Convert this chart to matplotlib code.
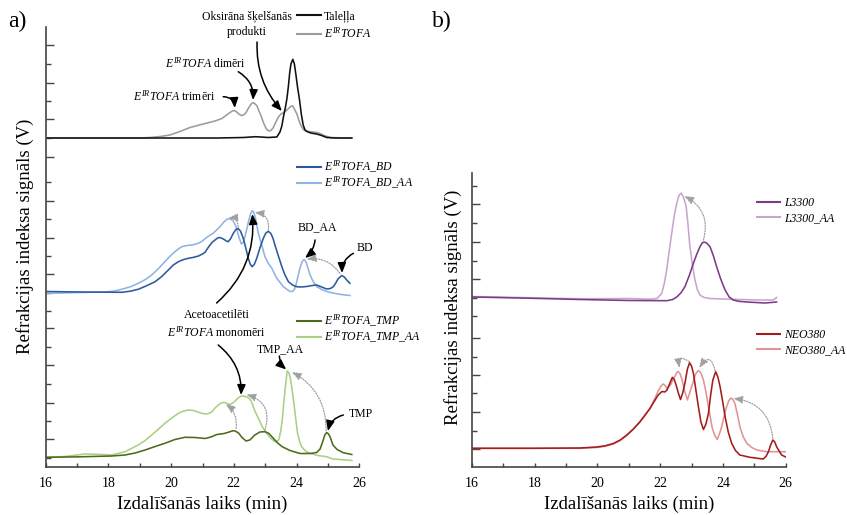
import matplotlib
matplotlib.use('Agg')
import matplotlib.pyplot as plt
from matplotlib.legend import Legend
from matplotlib.ticker import FixedLocator, MultipleLocator, NullFormatter

plt.rcParams['font.family'] = ['Liberation Serif', 'DejaVu Serif']
plt.rcParams['mathtext.fontset'] = 'custom'
plt.rcParams['mathtext.rm'] = 'Liberation Serif'
plt.rcParams['mathtext.it'] = 'Liberation Serif:italic'
plt.rcParams['mathtext.bf'] = 'Liberation Serif:bold'

W, H = 847, 515

# ---------------- data (retention time in min, RI signal in arbitrary units) -------------
# Panel a) - top group
tall_t = [16.0, 21.5, 22.3, 22.7, 23.1, 23.37, 23.47, 23.53, 23.58, 23.64, 23.69, 23.74, 23.78,
          23.82, 23.88, 23.93, 23.98, 24.03, 24.09, 24.15, 24.21, 24.27, 24.33, 24.45, 24.64,
          24.80, 24.96, 25.2, 25.76]
tall_s = [329, 329, 329.5, 330.3, 329.5, 330, 335, 341, 350, 359, 368, 381, 394,
          403, 407.7, 403, 392, 380, 368, 353, 342, 337, 335.5, 334, 333,
          331.5, 329.5, 329, 329]
tofa_t = [16.0, 19.0, 19.33, 19.65, 19.96, 20.28, 20.6, 21.02, 21.4, 21.62, 21.81, 21.95, 22.02,
          22.09, 22.16, 22.24, 22.31, 22.38, 22.45, 22.52, 22.57, 22.62, 22.68, 22.74, 22.8,
          22.87, 22.93, 22.99, 23.05, 23.12, 23.18, 23.25, 23.34, 23.42, 23.5, 23.57, 23.63,
          23.69, 23.76, 23.83, 23.88, 23.93, 24.01, 24.08, 24.16, 24.23, 24.3, 24.4, 24.52,
          24.65, 24.75, 24.87, 24.97, 25.1, 25.38, 25.76]
tofa_s = [329, 329, 329.5, 330.5, 332, 335.5, 339.5, 343, 346, 348.5, 353, 356, 356.5,
          355, 353, 351.5, 352, 354, 358, 361.5, 363.7, 364.3, 363, 361, 356,
          351, 345.5, 341, 337.5, 336, 336.5, 339, 345, 350, 353, 354, 355.5,
          357, 359, 361, 361, 358, 353, 346, 340, 337, 336, 335.5, 335,
          334.5, 333.5, 331.5, 330.5, 329.5, 329.2, 329]

# Panel a) - middle group
bd_t = [16.0, 17.09, 18.42, 18.7, 18.95, 19.2, 19.49, 19.7, 19.91, 20.07, 20.23, 20.4, 20.55,
        20.72, 20.87, 21.0, 21.08, 21.16, 21.24, 21.32, 21.4, 21.48, 21.56, 21.63, 21.69,
        21.76, 21.82, 21.9, 21.97, 22.05, 22.13, 22.21, 22.3, 22.38, 22.46, 22.52, 22.58,
        22.65, 22.73, 22.83, 22.94, 23.02, 23.1, 23.18, 23.25, 23.31, 23.42, 23.53, 23.63,
        23.74, 23.87, 24.0, 24.15, 24.32, 24.5, 24.64, 24.8, 24.96, 25.08, 25.17, 25.25,
        25.32, 25.44, 25.52, 25.6, 25.7]
bd_s = [175.5, 175, 174.7, 175.8, 177.7, 181, 185.3, 190.5, 197, 202, 205.3, 207.5, 208.7,
        209.7, 211, 213, 214.7, 218.5, 222, 225, 227, 229, 229.5, 228.5, 227.5,
        226, 225.3, 228.5, 233, 237, 238.7, 236, 228.7, 219, 208.7, 203, 200.3,
        202.5, 208.7, 219, 228.7, 234, 235.7, 233.5, 228.5, 222, 211, 200.3, 192,
        185.3, 182, 180.3, 180, 180.5, 181.5, 182, 180, 178, 178.5, 180.3, 184,
        188, 191.5, 190, 187, 183.7]
bdaa_t = [16.0, 16.5, 17.09, 17.89, 18.2, 18.42, 18.7, 18.95, 19.18, 19.38, 19.6, 19.8, 19.97,
          20.12, 20.25, 20.34, 20.5, 20.66, 20.82, 20.97, 21.11, 21.22, 21.34, 21.45, 21.56,
          21.68, 21.79, 21.88, 21.97, 22.04, 22.1, 22.17, 22.24, 22.3, 22.36, 22.42, 22.47,
          22.53, 22.58, 22.63, 22.69, 22.77, 22.83, 22.89, 22.99, 23.1, 23.21, 23.37, 23.58,
          23.72, 23.8, 23.87, 23.93, 23.98, 24.04, 24.11, 24.18, 24.24, 24.3, 24.36, 24.43,
          24.52, 24.64, 24.8, 24.96, 25.15, 25.38, 25.55, 25.7]
bdaa_s = [173.5, 174, 174.5, 175, 176, 177.7, 180.2, 183.7, 187.5, 192, 198.5, 205.3, 211,
          215.3, 218.5, 220.3, 221.5, 222, 223.2, 225.3, 229, 231.5, 233.7, 237, 240.3,
          245, 248, 248, 246.5, 242.5, 237, 229, 223, 224.5, 231, 239, 246,
          253, 256.3, 255, 249, 235.3, 228, 222, 210.3, 203.7, 198.7, 188.7, 180.3,
          177, 175.5, 175.5, 177.5, 182, 190, 199, 205.5, 207.5, 205, 199, 192,
          186, 180.5, 177.5, 175.5, 174, 172.7, 172, 171.5]

# Panel a) - bottom group
tmp_t = [16.0, 17.09, 18.1, 18.53, 18.85, 19.17, 19.49, 19.8, 20.12, 20.44, 20.76, 21.08, 21.27,
         21.46, 21.69, 21.85, 21.96, 22.04, 22.15, 22.26, 22.39, 22.51, 22.67, 22.83, 22.99,
         23.12, 23.25, 23.38, 23.53, 23.79, 24.11, 24.43, 24.64, 24.75, 24.84, 24.9, 24.96,
         25.02, 25.07, 25.16, 25.29, 25.49, 25.76]
tmp_s = [9.7, 10.2, 11, 12, 14, 17, 20.5, 23.7, 27.5, 29.7, 29.5, 28.5, 30,
         32.5, 33.5, 35, 36.2, 36, 34, 29.5, 26, 27, 32, 35, 35.3,
         33.5, 29, 24.5, 20.5, 16.5, 13.5, 13.5, 14.5, 18, 26, 32, 34.5,
         33, 30, 22, 17.5, 14.3, 12.5]
tmpaa_t = [16.0, 16.62, 17.25, 17.67, 18.11, 18.53, 18.95, 19.17, 19.38, 19.6, 19.8, 20.02, 20.23,
           20.4, 20.55, 20.72, 20.87, 21.0, 21.13, 21.22, 21.3, 21.4, 21.5, 21.6, 21.69,
           21.78, 21.88, 21.96, 22.04, 22.15, 22.25, 22.34, 22.42, 22.49, 22.55, 22.66, 22.78,
           22.91, 23.05, 23.18, 23.3, 23.38, 23.44, 23.5, 23.55, 23.6, 23.65, 23.7, 23.75,
           23.8, 23.86, 23.92, 23.97, 24.03, 24.1, 24.16, 24.3, 24.43, 24.68, 24.96, 25.16,
           25.38, 25.76]
tmpaa_s = [9.7, 10.5, 13, 12.7, 12, 15.3, 22, 26.5, 32, 38, 43.7, 49, 53.7,
           56, 57, 56.5, 54.7, 53.5, 53, 53.8, 55.3, 59, 62, 64, 64.7,
           63.5, 62.5, 64, 66, 69.5, 71, 70.7, 70, 68.5, 66, 57, 48.7,
           40, 33.7, 28.5, 25.5, 25.5, 28, 37, 49, 67, 82, 96, 94.5,
           89, 77, 62, 49, 34, 25, 20.3, 15.5, 13.7, 11.5, 10.3, 8,
           7.5, 6.5]

# Panel b) - top group
l33_t = [16.0, 17.54, 19.45, 21.04, 22.21, 22.4, 22.53, 22.66, 22.79, 22.93, 23.06, 23.17, 23.27,
         23.34, 23.4, 23.48, 23.59, 23.7, 23.8, 23.93, 24.07, 24.2, 24.33, 24.5, 24.76,
         25.34, 25.71]
l33_s = [170, 169, 167.5, 166.5, 166.3, 167.5, 170, 174, 180.3, 191.5, 203.7, 213, 220.3,
         224, 225, 224, 220.3, 211, 200.3, 188, 177, 170, 167, 165.7, 165,
         164, 165]
l33aa_t = [16.0, 17.54, 19.45, 21.04, 21.68, 21.9, 22.05, 22.13, 22.21, 22.29, 22.37, 22.45, 22.53,
           22.6, 22.67, 22.75, 22.83, 22.89, 22.95, 23.03, 23.11, 23.19, 23.27, 23.4, 23.59,
           24.23, 25.18, 25.6, 25.71]
l33aa_s = [170.5, 169.5, 168.2, 168.5, 167.8, 168.5, 173.5, 183, 197, 216, 233.7, 251, 263.7,
           271.5, 274, 269.5, 260.3, 242, 220.3, 202, 187, 177, 172, 169.5, 168.5,
           167.7, 167, 167, 169.5]

# Panel b) - bottom group
neo_t = [16.0, 17.86, 19.45, 19.99, 20.25, 20.51, 20.73, 20.94, 21.15, 21.36, 21.52, 21.68, 21.81,
         21.94, 22.06, 22.15, 22.22, 22.3, 22.39, 22.45, 22.51, 22.58, 22.65, 22.72, 22.79,
         22.87, 22.94, 23.0, 23.06, 23.14, 23.22, 23.3, 23.38, 23.46, 23.54, 23.61, 23.68,
         23.77, 23.84, 23.91, 23.99, 24.07, 24.17, 24.28, 24.4, 24.54, 24.86, 25.1, 25.29,
         25.38, 25.45, 25.52, 25.59, 25.65, 25.71, 25.8, 25.87, 26.0]
neo_s = [18.7, 18.7, 19, 20, 21.2, 23.5, 27, 32, 38, 45.3, 52, 58.7, 65.5,
         72, 75.5, 75, 77, 83, 89.7, 87.5, 82, 74, 67.5, 74, 83.7,
         98, 104.3, 101, 93.7, 77, 60.3, 45, 37.5, 43, 53.7, 72, 87,
         95.3, 90, 80.3, 66, 50.3, 35, 23.7, 16.5, 12, 9.7, 8.7, 8,
         11, 15.3, 22, 27, 25, 20.3, 15.5, 12, 10]
neoaa_t = [16.0, 17.86, 19.45, 19.99, 20.25, 20.51, 20.73, 20.94, 21.15, 21.36, 21.52, 21.68, 21.81,
           21.94, 22.03, 22.1, 22.16, 22.22, 22.29, 22.35, 22.42, 22.48, 22.53, 22.58, 22.64,
           22.7, 22.78, 22.87, 22.95, 23.04, 23.13, 23.22, 23.3, 23.38, 23.46, 23.54, 23.66,
           23.74, 23.82, 23.89, 23.96, 24.04, 24.12, 24.19, 24.26, 24.32, 24.38, 24.46, 24.54,
           24.65, 24.76, 24.92, 25.08, 25.39, 26.0]
neoaa_s = [18.7, 18.7, 18.7, 19.5, 20.7, 23, 26.5, 31.5, 38, 45, 51.5, 58.5, 67,
           76, 81, 83, 81.5, 78.5, 80.5, 83, 88, 91, 94.5, 95.5, 93,
           87, 76, 67, 75, 83.7, 93, 96.5, 94, 87, 75, 60.3, 39,
           31.5, 27.7, 33, 40.3, 51, 60.3, 66.5, 69, 67.5, 63.7, 53, 40.3,
           30, 23.7, 19.5, 17, 15.3, 15.3]

# y-axis tick positions (signal units)
left_major = [422, 384.3, 348, 310, 266.3, 229.5, 192.7, 138.7, 102, 64.3, 27.7]
left_minor = [403, 366, 329, 284.7, 248, 211, 174.3, 156, 120.3, 83, 46, 9.3]
right_major = [18, 55, 92, 128.7, 188, 225, 262.7]
right_minor = [36.3, 73.7, 110.3, 151, 169.3, 206.3, 243.7, 281]

# ---------------- styles ----------------
C = dict(tall='#111111', tofa='#9c9c9c', bd='#2d5a9e', bdaa='#8fb3e2',
         tmp='#4d6b1d', tmpaa='#a9d084', l33='#7b3d88', l33aa='#c9a4cf',
         neo='#a51c1c', neoaa='#e29393')
LW = 1.15
SP = '#444444'

fig = plt.figure(figsize=(W / 100, H / 100), dpi=100)
axL = fig.add_axes([45.7 / W, 48 / H, 313.6 / W, 440 / H])
axR = fig.add_axes([471.7 / W, 48 / H, 314 / W, 293.7 / H])


def style_axes(ax, ytop, majors, minors):
    ax.set_xlim(16, 26)
    ax.set_ylim(0, ytop)
    for s in ('top', 'right'):
        ax.spines[s].set_visible(False)
    for s in ('left', 'bottom'):
        ax.spines[s].set_color(SP)
        ax.spines[s].set_linewidth(1.2)
    ax.xaxis.set_major_locator(MultipleLocator(2))
    ax.xaxis.set_minor_locator(MultipleLocator(1))
    ax.yaxis.set_major_locator(FixedLocator(majors))
    ax.yaxis.set_minor_locator(FixedLocator(minors))
    ax.yaxis.set_major_formatter(NullFormatter())
    ax.tick_params(axis='x', which='both', direction='in', length=3, width=1, color=SP,
                   labelsize=10, pad=7)
    ax.tick_params(axis='y', which='major', direction='in', length=5.5, width=1, color=SP)
    ax.tick_params(axis='y', which='minor', direction='in', length=3.5, width=1, color=SP)
    ax.patch.set_visible(False)


style_axes(axL, 440, left_major, left_minor)
style_axes(axR, 293.7, right_major, right_minor)

# ---------------- curves ----------------
h_tofa, = axL.plot(tofa_t, tofa_s, color=C['tofa'], lw=LW, label=r'$E^{IR}TOFA$')
h_tall, = axL.plot(tall_t, tall_s, color=C['tall'], lw=LW, label='Taleļļa')
h_bdaa, = axL.plot(bdaa_t, bdaa_s, color=C['bdaa'], lw=LW, label=r'$E^{IR}TOFA\_BD\_AA$')
h_bd, = axL.plot(bd_t, bd_s, color=C['bd'], lw=LW, label=r'$E^{IR}TOFA\_BD$')
h_tmpaa, = axL.plot(tmpaa_t, tmpaa_s, color=C['tmpaa'], lw=LW, label=r'$E^{IR}TOFA\_TMP\_AA$')
h_tmp, = axL.plot(tmp_t, tmp_s, color=C['tmp'], lw=LW, label=r'$E^{IR}TOFA\_TMP$')

h_l33aa, = axR.plot(l33aa_t, l33aa_s, color=C['l33aa'], lw=LW, label='L3300_AA')
h_l33, = axR.plot(l33_t, l33_s, color=C['l33'], lw=LW, label='L3300')
h_neoaa, = axR.plot(neoaa_t, neoaa_s, color=C['neoaa'], lw=LW, label='NEO380_AA')
h_neo, = axR.plot(neo_t, neo_s, color=C['neo'], lw=LW, label='NEO380')


# ---------------- legends ----------------
def legend(ax, handles, x_px, ytop_px, spacing, italic=False):
    prop = {'size': 8.5}
    if italic:
        prop['style'] = 'italic'
    leg = Legend(ax, handles, [h.get_label() for h in handles], loc='upper left',
                 bbox_to_anchor=(x_px / W, 1 - ytop_px / H), bbox_transform=fig.transFigure,
                 frameon=False, prop=prop, borderpad=0, borderaxespad=0,
                 handlelength=2.0, handletextpad=0.3, labelspacing=spacing)
    for ln in leg.get_lines():
        ln.set_linewidth(1.5)
    ax.add_artist(leg)
    return leg


legend(axL, [h_tall, h_tofa], 297, 10.5, 0.3)
legend(axL, [h_bd, h_bdaa], 297, 159, 0.0)
legend(axL, [h_tmp, h_tmpaa], 297, 313, 0.0)
legend(axR, [h_l33, h_l33aa], 756.5, 197.5, 0.2, italic=True)
legend(axR, [h_neo, h_neoaa], 756.5, 329.5, 0.2, italic=True)

# ---------------- annotations ----------------
FS = 8.5


def black_arrow(ax, tail, head, rad):
    ax.annotate('', xy=head, xytext=tail, annotation_clip=False,
                arrowprops=dict(arrowstyle='-|>,head_length=0.6,head_width=0.25', color='black',
                                lw=1.1, shrinkA=0, shrinkB=0, mutation_scale=10,
                                connectionstyle=f'arc3,rad={rad}'))


def dotted_arrow(ax, tail, head, rad):
    ax.annotate('', xy=head, xytext=tail, annotation_clip=False,
                arrowprops=dict(arrowstyle='-|>,head_length=0.55,head_width=0.22', color='#a0a0a0',
                                lw=0.9, linestyle=(0, (1, 1.2)), shrinkA=0, shrinkB=0,
                                mutation_scale=10, connectionstyle=f'arc3,rad={rad}'))


# top group
axL.text(22.42, 443, 'Oksirāna šķelšanās\nprodukti', ha='center', va='center', fontsize=FS,
         linespacing=1.35)
black_arrow(axL, (22.74, 425), (23.53, 356), 0.2)
axL.text(21.1, 403.7, r'$E^{IR}TOFA$ dimēri', ha='center', va='center', fontsize=FS)
black_arrow(axL, (22.14, 395.3), (22.61, 367), -0.3)
axL.text(20.1, 370.3, r'$E^{IR}TOFA$ trimēri', ha='center', va='center', fontsize=FS)
black_arrow(axL, (21.66, 370.3), (22.03, 359), -0.45)

# middle group
axL.text(24.67, 239.7, 'BD_AA', ha='center', va='center', fontsize=FS)
black_arrow(axL, (24.59, 227), (24.27, 209), -0.2)
axL.text(26.18, 218.7, 'BD', ha='center', va='center', fontsize=FS)
black_arrow(axL, (25.81, 213.7), (25.45, 194), 0.3)
dotted_arrow(axL, (25.38, 193.7), (24.32, 207.7), 0.3)
dotted_arrow(axL, (23.1, 237), (22.66, 254.5), 0.5)
dotted_arrow(axL, (22.14, 240.3), (21.82, 249), 0.5)

# bottom group
axL.text(21.45, 143, 'Acetoacetilēti\n' + r'$E^{IR}TOFA$ monomēri', ha='center', va='center',
         fontsize=FS, linespacing=1.35)
black_arrow(axL, (21.45, 164), (22.59, 253), 0.25)
black_arrow(axL, (21.5, 122), (22.23, 72), -0.25)
axL.text(23.47, 117.7, 'TMP_AA', ha='center', va='center', fontsize=FS)
black_arrow(axL, (23.45, 111), (23.67, 97.5), 0.2)
axL.text(26.04, 52.7, 'TMP', ha='center', va='center', fontsize=FS)
black_arrow(axL, (25.49, 52), (25.0, 36), 0.3)
dotted_arrow(axL, (24.94, 36.3), (23.85, 95), 0.3)
dotted_arrow(axL, (22.99, 37), (22.4, 72.5), 0.5)
dotted_arrow(axL, (22.07, 38.7), (21.74, 63), 0.3)

# right panel
dotted_arrow(axR, (23.38, 227), (22.77, 271), 0.4)
dotted_arrow(axR, (22.93, 105.3), (22.62, 99), 1.2)
dotted_arrow(axR, (23.75, 96.3), (23.25, 99), 1.2)
dotted_arrow(axR, (25.59, 28.7), (24.33, 68.5), 0.4)

# ---------------- labels ----------------
ylab = 'Refrakcijas indeksa signāls (V)'
xlab = 'Izdalīšanās laiks (min)'
fig.text(25 / W, 1 - 236 / H, ylab, rotation=90, ha='center', va='center', fontsize=13.5)
fig.text(453 / W, 1 - 307.5 / H, ylab, rotation=90, ha='center', va='center', fontsize=13.5)
fig.text(202.5 / W, 1 - 508.5 / H, xlab, ha='center', va='baseline', fontsize=13.5)
fig.text(628.7 / W, 1 - 508.5 / H, xlab, ha='center', va='baseline', fontsize=13.5)
fig.text(8 / W, 1 - 27.5 / H, 'a)', ha='left', va='baseline', fontsize=17)
fig.text(432 / W, 1 - 27.5 / H, 'b)', ha='left', va='baseline', fontsize=17)

fig.savefig('out.png', dpi=100)
